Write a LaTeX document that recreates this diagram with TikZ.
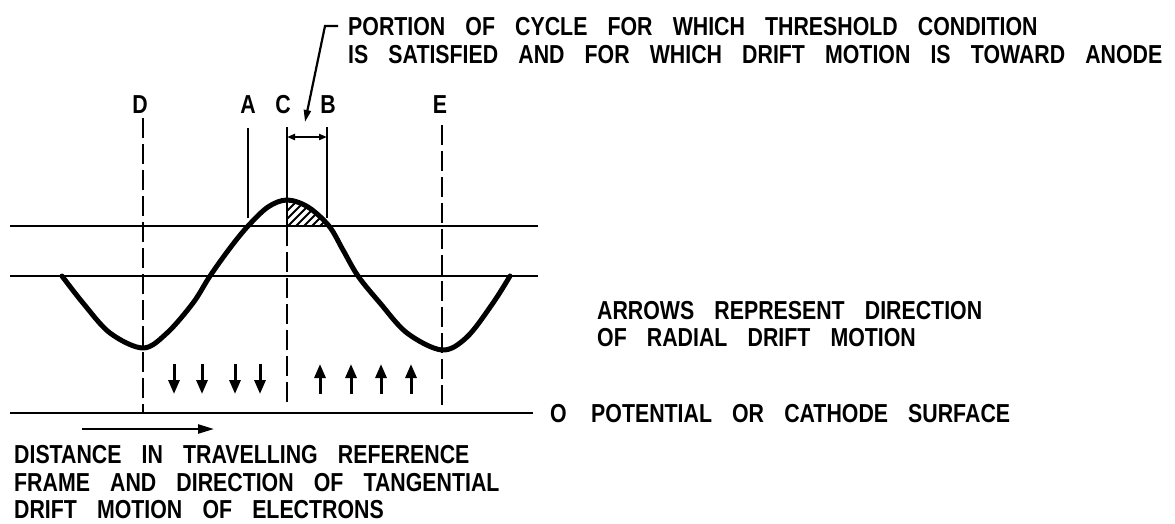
\documentclass[tikz,border=0pt]{standalone}
\usepackage{fontspec}
\newfontfamily\lettering{Liberation Sans}[FakeStretch=0.82, WordSpace=3.4]
\usetikzlibrary{arrows.meta}
\begin{document}
\begin{tikzpicture}[x=1pt,y=-1pt,
  txt/.style={inner sep=0pt, anchor=base west, font=\lettering\bfseries\fontsize{26}{26}\selectfont},
  lbl/.style={inner sep=0pt, anchor=base, font=\lettering\bfseries\fontsize{26}{26}\selectfont},
  rule/.style={line width=2.8pt},
  wave/.style={line width=5pt, line join=round, line cap=round},
  dashv/.style={line width=2.8pt, dash pattern=on 20pt off 6pt},
  drift/.style={line width=3pt, -{Triangle[length=14pt,width=11pt]}},
  hatch/.style={line width=1.8pt},
  lead/.style={line width=2.2pt, -{Triangle[length=12pt,width=7pt]}},
  span/.style={line width=2pt, {Triangle[length=8pt,width=6pt]}-{Triangle[length=8pt,width=6pt]}},
  move/.style={line width=2.4pt, -{Triangle[length=16pt,width=9pt]}}
]
\useasboundingbox (0,0) rectangle (1175,523);

% texts
\node[txt] (portion) at (348,35) {PORTION OF CYCLE FOR WHICH THRESHOLD CONDITION};
\node[txt] (satisfied) at (348,63) {IS SATISFIED AND FOR WHICH DRIFT MOTION IS TOWARD ANODE};
\node[lbl] (lD) at (140,113) {D};
\node[lbl] (lA) at (248,113) {A};
\node[lbl] (lC) at (283,113) {C};
\node[lbl] (lB) at (328,113) {B};
\node[lbl] (lE) at (440,113) {E};
\node[txt] (arrows1) at (597,319) {ARROWS REPRESENT DIRECTION};
\node[txt] (arrows2) at (597,346) {OF RADIAL DRIFT MOTION};
\node[txt] (zero) at (550,422) {O};
\node[txt] (surface) at (591,422) {POTENTIAL OR CATHODE SURFACE};
\node[txt] (dist1) at (14,463) {DISTANCE IN TRAVELLING REFERENCE};
\node[txt] (dist2) at (14,491) {FRAME AND DIRECTION OF TANGENTIAL};
\node[txt] (dist3) at (14,518) {DRIFT MOTION OF ELECTRONS};

% coordinates
\coordinate (upL) at (10,226);   \coordinate (upR) at (538,226);
\coordinate (midL) at (10,276);  \coordinate (midR) at (538,276);
\coordinate (botL) at (10,413);  \coordinate (botR) at (533,413);
\coordinate (Dt) at (143,118);   \coordinate (Db) at (143,413);
\coordinate (At) at (248,128);   \coordinate (Ab) at (248,218);
\coordinate (Ct) at (287,127);   \coordinate (Cm) at (287,226);  \coordinate (Cb) at (287,403);
\coordinate (Bt) at (327,127);   \coordinate (Bb) at (327,218);
\coordinate (Et) at (442,125);   \coordinate (Eb) at (442,408);
\coordinate (spanL) at (287,137); \coordinate (spanR) at (327,137);
\coordinate (hook) at (325,26);  \coordinate (tip) at (305,122);
\coordinate (moveS) at (82,429); \coordinate (moveE) at (214,429);

% hatched region
\begin{scope}
  \clip (287,190) rectangle (345,226);
  \clip plot[smooth,tension=0.55] coordinates {(62,276) (83,303) (110,333) (143,348) (167,333) (193,303) (210,276) (230,248) (248,226) (268,207) (287,200) (308,207) (329,226) (343,250) (358,276) (380,303) (407,333) (442,350) (467,337) (493,303) (510,276)} -- (510,430) -- (62,430) -- cycle;
  \foreach \k in {0,...,9} \draw[hatch] (262+8*\k,236) -- ++(40,-40);
\end{scope}

% horizontal lines
\draw[rule] (upL) -- (upR);
\draw[rule] (midL) -- (midR);
\draw[rule] (botL) -- (botR);

% verticals
\draw[dashv] (Dt) -- (Db);
\draw[rule] (At) -- (Ab);
\draw[rule] (Ct) -- (Cm);
\draw[dashv] (Cm) -- (Cb);
\draw[rule] (Bt) -- (Bb);
\draw[dashv] (Et) -- (Eb);

% wave
\draw[wave] plot[smooth,tension=0.55] coordinates {(62,276) (83,303) (110,333) (143,348) (167,333) (193,303) (210,276) (230,248) (248,226) (268,207) (287,200) (308,207) (329,226) (343,250) (358,276) (380,303) (407,333) (442,350) (467,337) (493,303) (510,276)};

% span arrow and leader
\draw[span] (spanL) -- (spanR);
\draw[lead] ([xshift=-10pt]portion.west) -- (hook) -- (tip);

% drift arrows
\foreach \x [count=\i] in {174,202,235,260} {
  \coordinate (dn\i t) at (\x,364); \coordinate (dn\i b) at (\x,394);
  \draw[drift] (dn\i t) -- (dn\i b);
}
\foreach \x [count=\i] in {320,351,381,411} {
  \coordinate (up\i t) at (\x,364); \coordinate (up\i b) at (\x,394);
  \draw[drift] (up\i b) -- (up\i t);
}

% tangential motion arrow
\draw[move] (moveS) -- (moveE);
\end{tikzpicture}
\end{document}
